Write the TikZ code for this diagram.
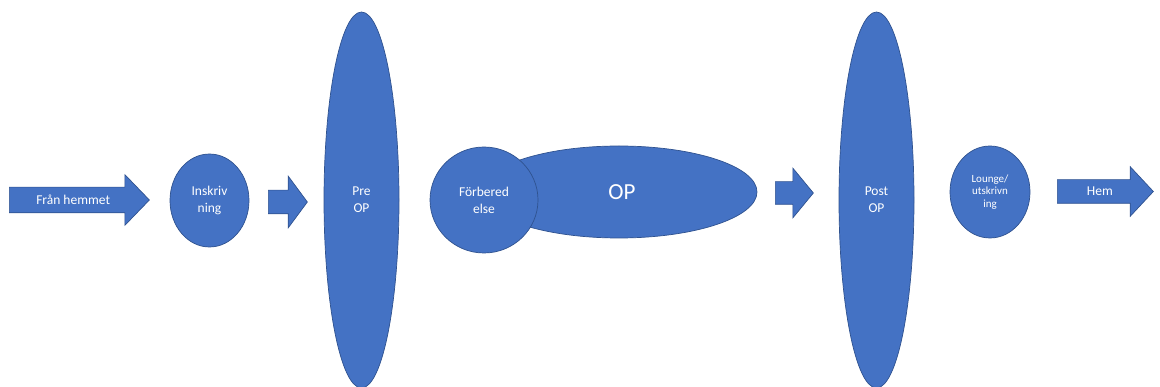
\documentclass[tikz,border=0pt]{standalone}
\usepackage{fontspec}
\setmainfont{Carlito}
\usetikzlibrary{shapes.geometric,shapes.arrows}
\definecolor{fasblue}{HTML}{4472C4}
\definecolor{fasedge}{HTML}{2F528F}

\begin{document}
\begin{tikzpicture}[x=1pt,y=-1pt,% coordinates as in the screenshot, y going down
		every node/.style={
			align=center,		% use this so that the "\\" for line break works
			text=white,
			font=\fontsize{13.5}{17}\selectfont,
			fill=fasblue,
			draw=fasedge,
			line width=0.7pt,
			inner sep=0pt		% sizes are given by minimum width/height
		},
		stage/.style={ellipse},
		blockarrow/.style={single arrow,single arrow head indent=0pt,
			text height=8.8pt,text depth=0pt,anchor=tail}
	]
	\useasboundingbox (0,0) rectangle (1160,387);
	\node[blockarrow,minimum height=140pt,inner ysep=8.1pt,single arrow head extend=12.5pt,single arrow tip angle=92](A1) at (9,200) {Från hemmet};
	\node[stage,minimum width=79pt,minimum height=93pt](S1) at (209.5,200.5) {Inskriv\\ning};
	\node[blockarrow,minimum height=39pt,inner ysep=7.1pt,single arrow head extend=14pt,single arrow tip angle=107](A2) at (268,202) {};
	\node[stage,minimum width=75pt,minimum height=376pt](S2) at (361.5,200) {Pre\\OP};
	\node[stage,minimum width=276pt,minimum height=92pt,font=\fontsize{23}{27}\selectfont](S3) at (619,192) {\hspace*{6pt}OP};
	\node[stage,minimum width=108pt,minimum height=106pt](S4) at (484,200) {Förbered\\else};
	\node[blockarrow,minimum height=38pt,inner ysep=6.6pt,single arrow head extend=13.5pt,single arrow tip angle=101](A3) at (775,193) {};
	\node[stage,minimum width=75pt,minimum height=376pt](S5) at (876.5,200) {Post\\OP};
	\node[stage,minimum width=80pt,minimum height=92pt,font=\fontsize{11}{12.5}\selectfont](S6) at (990,192) {Lounge/\\utskrivn\\ing};
	\node[blockarrow,minimum height=96pt,inner ysep=7.1pt,single arrow head extend=13pt,single arrow tip angle=94](A4) at (1057,191.5) {Hem};
\end{tikzpicture}
\end{document}
